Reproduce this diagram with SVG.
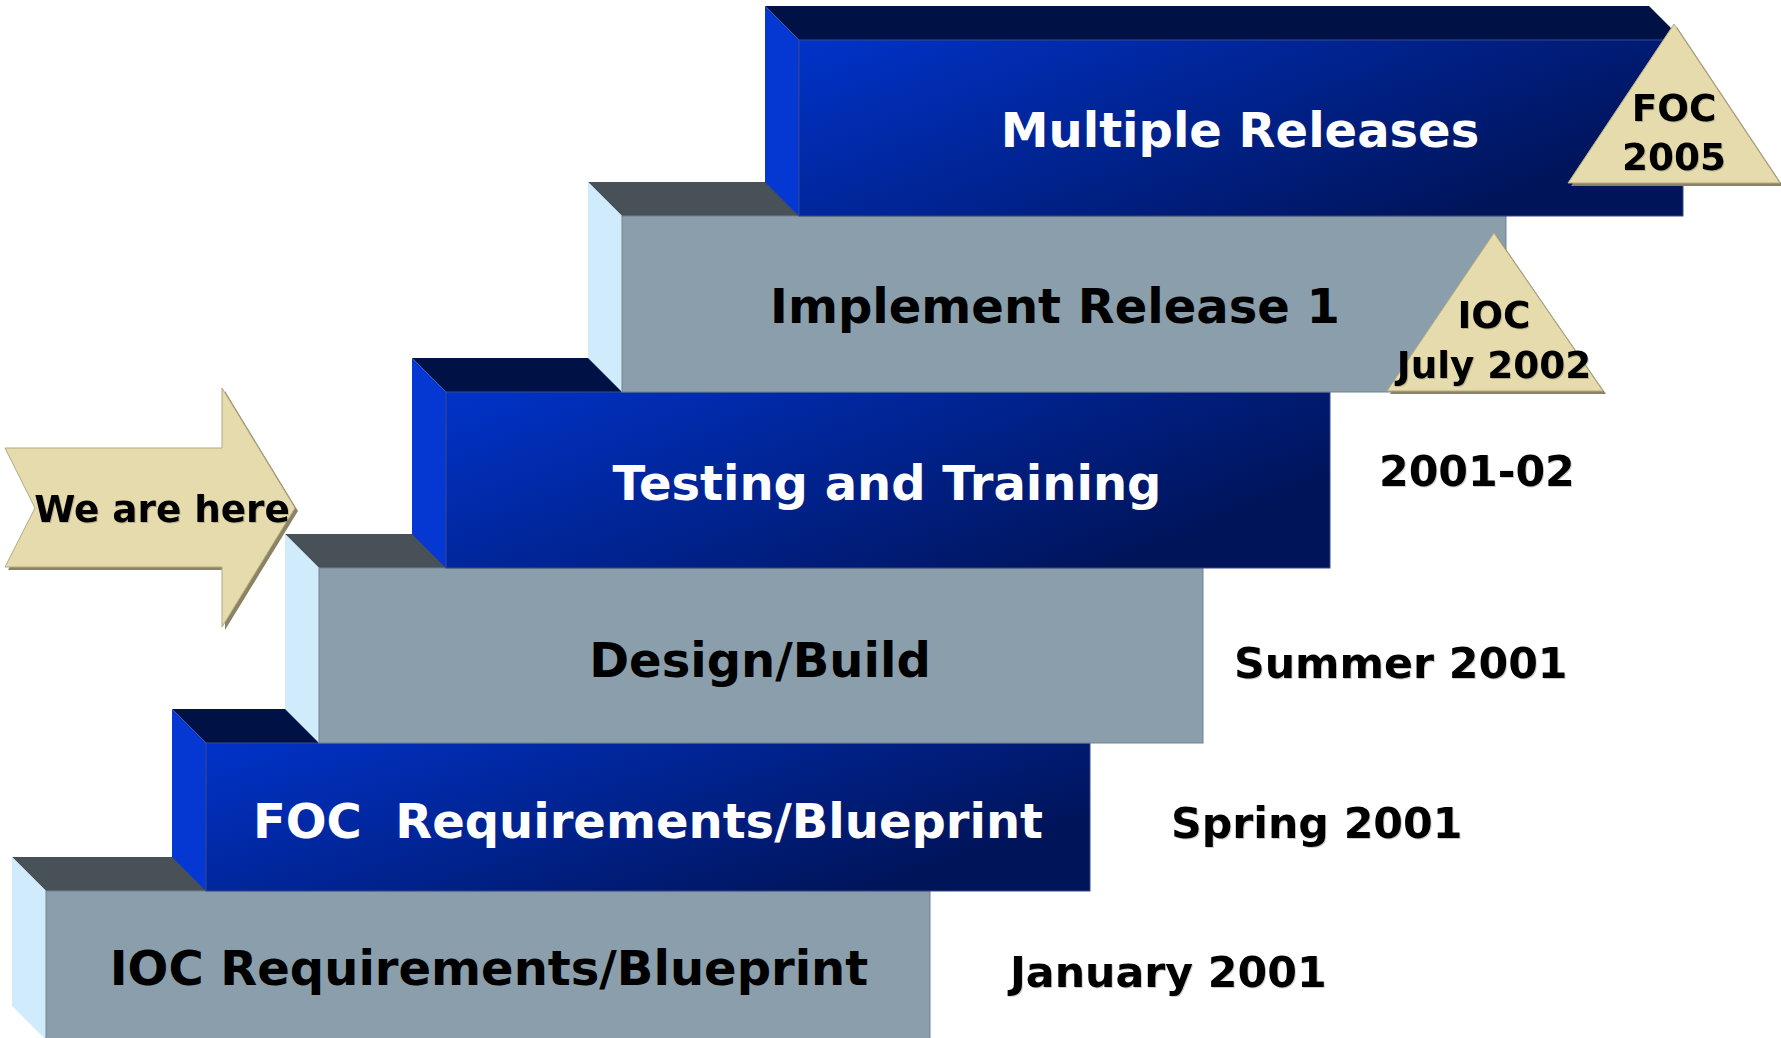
<svg xmlns="http://www.w3.org/2000/svg" width="1781" height="1038" viewBox="0 0 1781 1038">
<defs>
<linearGradient id="blueFront" x1="0" y1="0" x2="1" y2="0.5">
<stop offset="0" stop-color="#0133c9"/>
<stop offset="1" stop-color="#00145a"/>
</linearGradient>
<filter id="txtShadow" x="-5%" y="-20%" width="110%" height="140%">
<feDropShadow dx="1" dy="1" stdDeviation="0.3" flood-color="#000" flood-opacity="0.2"/>
</filter>
</defs>
<style>
.bfront{fill:url(#blueFront);stroke:#3a4a88;stroke-width:1}
.bside{fill:#0537d2}
.btop{fill:#001245}
.gfront{fill:#8a9fab;stroke:#6f8190;stroke-width:1}
.gside{fill:#d0ecfc}
.gtop{fill:#475157}
.tan{fill:#e5dbad;stroke:#b3aa7e;stroke-width:1}
.shadow{fill:#8a8366}
text{font-family:"DejaVu Sans","Liberation Sans",sans-serif;font-weight:bold}
.lbl{font-size:48px;text-anchor:middle}
.w{fill:#ffffff}
.k{fill:#000000}
.date{font-size:42.67px;fill:#000;filter:url(#txtShadow)}
.small{font-size:37.33px;fill:#000;text-anchor:middle;filter:url(#txtShadow)}
</style>

<g id="ioc-requirements">
<polygon class="gtop" points="12,857 896,857 930,891 46,891"/>
<polygon class="gside" points="12,857 46,891 46,1040 12,1006"/>
<rect class="gfront" x="46" y="891" width="884" height="150"/>
<text class="lbl k" x="489" y="985">IOC Requirements/Blueprint</text>
</g>

<g id="foc-requirements">
<polygon class="btop" points="172,709 1056,709 1090,743 206,743"/>
<polygon class="bside" points="172,709 206,743 206,891 172,857"/>
<rect class="bfront" x="206" y="743" width="884" height="148"/>
<text class="lbl w" x="648" y="838" xml:space="preserve">FOC  Requirements/Blueprint</text>
</g>

<g id="design-build">
<polygon class="gtop" points="285,534 1169,534 1203,568 319,568"/>
<polygon class="gside" points="285,534 319,568 319,743 285,709"/>
<rect class="gfront" x="319" y="568" width="884" height="175"/>
<text class="lbl k" x="760" y="677">Design/Build</text>
</g>

<g id="testing-training">
<polygon class="btop" points="412,358 1296,358 1330,392 446,392"/>
<polygon class="bside" points="412,358 446,392 446,568 412,534"/>
<rect class="bfront" x="446" y="392" width="884" height="176"/>
<text class="lbl w" x="887" y="500">Testing and Training</text>
</g>

<g id="implement-release-1">
<polygon class="gtop" points="588,182 1472,182 1506,216 622,216"/>
<polygon class="gside" points="588,182 622,216 622,392 588,358"/>
<rect class="gfront" x="622" y="216" width="884" height="176"/>
<text class="lbl k" x="1055" y="323">Implement Release 1</text>
</g>

<g id="multiple-releases">
<polygon class="btop" points="765,6 1649,6 1683,40 799,40"/>
<polygon class="bside" points="765,6 799,40 799,216 765,182"/>
<rect class="bfront" x="799" y="40" width="884" height="176"/>
<text class="lbl w" x="1240" y="147">Multiple Releases</text>
</g>

<g id="ioc-milestone">
<polygon class="shadow" points="1497,236 1606,394 1390,394"/>
<polygon class="tan" points="1494,233 1603,391 1387,391"/>
<text class="small" x="1494" y="328">IOC</text>
<text class="small" x="1494" y="378">July 2002</text>
</g>

<g id="foc-milestone">
<polygon class="shadow" points="1677,27 1783,186 1571,186"/>
<polygon class="tan" points="1674,24 1780,183 1568,183"/>
<text class="small" x="1674" y="121">FOC</text>
<text class="small" x="1674" y="170">2005</text>
</g>

<g id="we-are-here">
<polygon class="shadow" points="8,451 225,451 225,391 298,511 225,630 225,570 8,570 38,511"/>
<polygon class="tan" points="5,448 222,448 222,388 295,508 222,627 222,567 5,567 35,508"/>
<text class="small" x="162" y="522">We are here</text>
</g>

<g id="dates">
<text class="date" x="1010" y="987">January 2001</text>
<text class="date" x="1171" y="838">Spring 2001</text>
<text class="date" x="1234" y="678">Summer 2001</text>
<text class="date" x="1379" y="486">2001-02</text>
</g>

<g id="connectors"></g>
</svg>
